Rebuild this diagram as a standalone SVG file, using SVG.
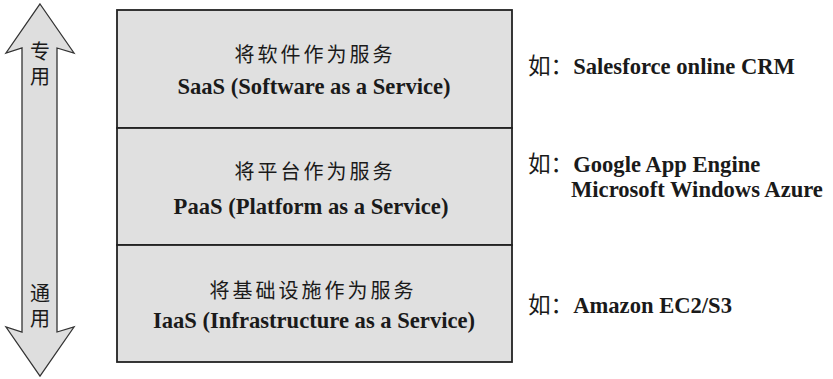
<svg xmlns="http://www.w3.org/2000/svg" width="833" height="379" viewBox="0 0 833 379">
  <style>
    .layer { fill: #e0e0e0; stroke: #222; stroke-width: 1.8; }
    .arrow { fill: #dedede; stroke: #333; stroke-width: 1.3; stroke-linejoin: miter; }
    .zh { font-family: "Noto Sans CJK SC", sans-serif; font-size: 20px; fill: #1a1a1a; letter-spacing: 3px; }
    .en { font-family: "Liberation Serif", "Noto Sans CJK SC", serif; font-size: 22.6px; font-weight: bold; fill: #1a1a1a; }
    .ex { font-family: "Liberation Serif", "Noto Sans CJK SC", serif; font-size: 22.6px; font-weight: bold; fill: #1a1a1a; }
    .lead { font-family: "Noto Sans CJK SC", sans-serif; font-weight: normal; }
    .side { font-family: "Noto Sans CJK SC", sans-serif; font-size: 20px; fill: #1a1a1a; writing-mode: vertical-rl; letter-spacing: 5px; }
  </style>

  <rect width="833" height="379" fill="#ffffff"/>

  <!-- two-way scale arrow: dedicated (top) to general (bottom) -->
  <g id="scale">
    <polygon class="arrow" points="40,4 74,53 57,48 57,332 74,327 40,376 6,327 22,332 22,48 6,53"/>
    <text class="side" x="40" y="41">专用</text>
    <text class="side" x="40" y="283">通用</text>
  </g>

  <!-- service layers -->
  <g id="saas">
    <rect class="layer" x="117" y="10" width="395" height="118"/>
    <text class="zh" x="315" y="62" text-anchor="middle">将软件作为服务</text>
    <text class="en" x="314" y="94" text-anchor="middle">SaaS (Software as a Service)</text>
  </g>
  <g id="paas">
    <rect class="layer" x="117" y="128" width="395" height="117"/>
    <text class="zh" x="315" y="179" text-anchor="middle">将平台作为服务</text>
    <text class="en" x="311" y="214" text-anchor="middle">PaaS (Platform as a Service)</text>
  </g>
  <g id="iaas">
    <rect class="layer" x="117" y="245" width="395" height="117"/>
    <text class="zh" x="313" y="298" text-anchor="middle">将基础设施作为服务</text>
    <text class="en" x="314" y="328" text-anchor="middle">IaaS (Infrastructure as a Service)</text>
  </g>

  <!-- examples -->
  <g id="examples">
    <text class="ex" x="528" y="74"><tspan class="lead">如：</tspan>Salesforce online CRM</text>
    <text class="ex" x="528" y="172"><tspan class="lead">如：</tspan>Google App Engine</text>
    <text class="ex" x="571" y="197">Microsoft Windows Azure</text>
    <text class="ex" x="528" y="313"><tspan class="lead">如：</tspan>Amazon EC2/S3</text>
  </g>
</svg>
